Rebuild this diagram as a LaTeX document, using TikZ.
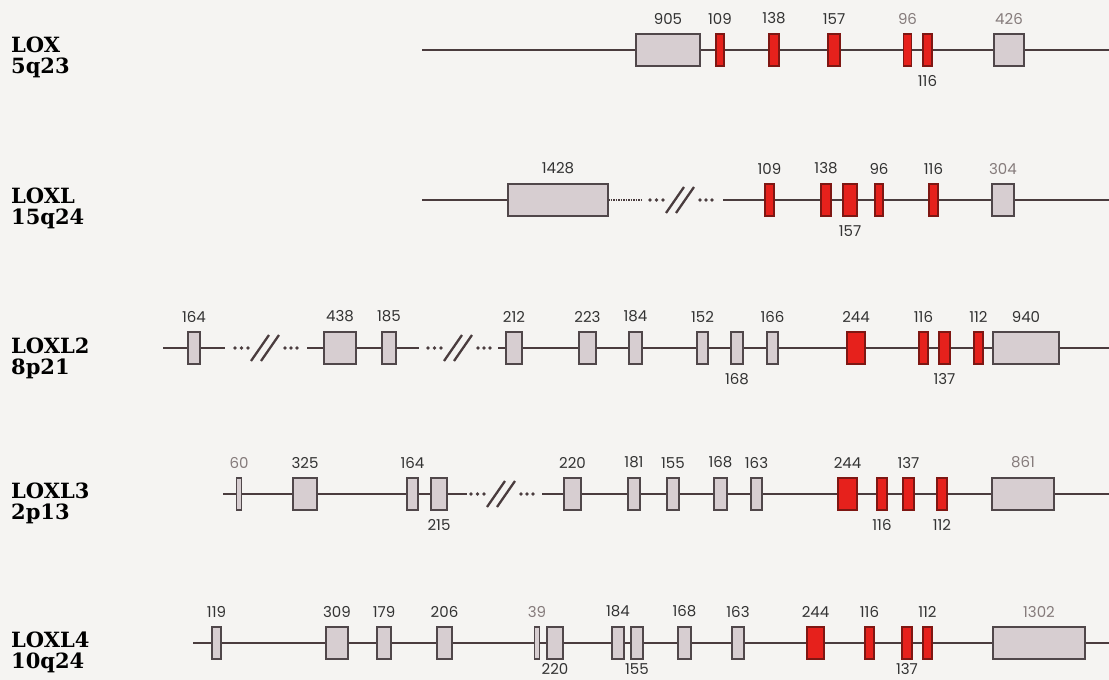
\documentclass[tikz,border=0pt]{standalone}
\usepackage{fontspec}
\newfontfamily\genefont{DejaVu Serif}
\newfontfamily\numfont{Poppins}

\definecolor{paper}{HTML}{F5F4F2}
\definecolor{intronline}{HTML}{4A3C3E}
\definecolor{exonline}{HTML}{50474A}
\definecolor{exongray}{HTML}{D7CED1}
\definecolor{exonred}{HTML}{E6211C}
\definecolor{redline}{HTML}{7E1713}
\definecolor{numgray}{HTML}{333333}
\definecolor{numlight}{HTML}{857B7B}

% break in the intron: dots, double slash, dots
\newcommand{\genebreak}[2]{%
  \begin{scope}[shift={(#1,#2)}]
    \foreach \d in {-31,-24.5,-18,19,25,31}
      \fill[intronline] (\d,0) circle (1.9pt);
    \draw[intronline, line width=2.3pt] (-15,13) -- (3,-13) (-5,13) -- (13,-13);
  \end{scope}}

\begin{document}
\begin{tikzpicture}[x=1pt, y=-1pt, label distance=9pt,
  exon/.style={rectangle, draw=exonline, fill=exongray, line width=1.3pt,
    minimum height=32pt, minimum width=#1, inner sep=0pt},
  redexon/.style={exon=#1, fill=exonred, draw=redline},
  intron/.style={draw=intronline, line width=2pt},
  gene/.style={font=\genefont\bfseries\fontsize{21}{21}\selectfont,
    align=left, anchor=west, inner sep=0pt},
  every label/.style={font=\numfont\fontsize{15}{15}\selectfont, text=numgray, inner sep=0pt},
  low/.style={yshift=5pt}]

\fill[paper] (0,0) rectangle (1109,680);
\useasboundingbox (0,0) rectangle (1109,680);

% LOX
\node at (11,57.5) (lox) [gene] {LOX\\5q23};
\coordinate (loxA) at (422,50);
\coordinate (loxB) at (1109,50);
\draw[intron] (loxA) -- (loxB);
\node at (668,50)    (lox905) [exon=64, label=above:905] {};
\node at (720,50)    (lox109) [redexon=8, label=above:109] {};
\node at (774,50)    (lox138) [redexon=10, label=above:138] {};
\node at (834,50)    (lox157) [redexon=12, label=above:157] {};
\node at (907.5,50)  (lox96)  [redexon=8, label={[text=numlight]above:96}] {};
\node at (927.5,50)  (lox116) [redexon=9, label=below:116] {};
\node at (1009,50)   (lox426) [exon=30, label={[text=numlight]above:426}] {};

% LOXL
\node at (11,208.5) (loxl) [gene] {LOXL\\15q24};
\coordinate (loxlA) at (422,200);
\coordinate (loxlB) at (608,200);
\coordinate (loxlC) at (641,200);
\coordinate (loxlD) at (723,200);
\coordinate (loxlE) at (1109,200);
\draw[intron] (loxlA) -- (loxlB);
\draw[intron, line width=2.4pt, dash pattern=on 1.6pt off 0.9pt] (loxlB) -- (loxlC);
\draw[intron] (loxlD) -- (loxlE);
\genebreak{681}{200}
\node at (558,200)   (loxl1428) [exon=100, label=above:1428] {};
\node at (769.5,200) (loxl109)  [redexon=9, label=above:109] {};
\node at (826,200)   (loxl138)  [redexon=10, label=above:138] {};
\node at (850,200)   (loxl157)  [redexon=14, label=below:157] {};
\node at (879,200)   (loxl96)   [redexon=8, label=above:96] {};
\node at (933.5,200) (loxl116)  [redexon=9, label=above:116] {};
\node at (1003,200)  (loxl304)  [exon=22, label={[text=numlight]above:304}] {};

% LOXL2
\node at (11,358.5) (loxltwo) [gene] {LOXL2\\8p21};
\coordinate (ltwoA) at (163,348);
\coordinate (ltwoB) at (225,348);
\coordinate (ltwoC) at (307,348);
\coordinate (ltwoD) at (419,348);
\coordinate (ltwoE) at (498,348);
\coordinate (ltwoF) at (1109,348);
\draw[intron] (ltwoA) -- (ltwoB);
\draw[intron] (ltwoC) -- (ltwoD);
\draw[intron] (ltwoE) -- (ltwoF);
\genebreak{266}{348}
\genebreak{459}{348}
\node at (194,348)   (ltwo164) [exon=12, label=above:164] {};
\node at (340,348)   (ltwo438) [exon=32, label=above:438] {};
\node at (389,348)   (ltwo185) [exon=14, label=above:185] {};
\node at (514,348)   (ltwo212) [exon=16, label=above:212] {};
\node at (587.5,348) (ltwo223) [exon=17, label=above:223] {};
\node at (635.5,348) (ltwo184) [exon=13, label=above:184] {};
\node at (702.5,348) (ltwo152) [exon=11, label=above:152] {};
\node at (737,348)   (ltwo168) [exon=12, label=below:168] {};
\node at (772.5,348) (ltwo166) [exon=11, label=above:166] {};
\node at (856,348)   (ltwo244) [redexon=18, label=above:244] {};
\node at (923.5,348) (ltwo116) [redexon=9, label=above:116] {};
\node at (944.5,348) (ltwo137) [redexon=11, label=below:137] {};
\node at (978.5,348) (ltwo112) [redexon=9, label=above:112] {};
\node at (1026,348)  (ltwo940) [exon=66, label=above:940] {};

% LOXL3
\node at (11,503) (loxlthree) [gene] {LOXL3\\2p13};
\coordinate (lthreeA) at (223,494);
\coordinate (lthreeB) at (467,494);
\coordinate (lthreeC) at (542,494);
\coordinate (lthreeD) at (1109,494);
\draw[intron] (lthreeA) -- (lthreeB);
\draw[intron] (lthreeC) -- (lthreeD);
\genebreak{502}{494}
\node at (239,494)   (lthree60)  [exon=5, label={[text=numlight]above:60}] {};
\node at (305,494)   (lthree325) [exon=24, label=above:325] {};
\node at (412.5,494) (lthree164) [exon=11, label=above:164] {};
\node at (439,494)   (lthree215) [exon=16, label=below:215] {};
\node at (572.5,494) (lthree220) [exon=17, label=above:220] {};
\node at (634,494)   (lthree181) [exon=12, label=above:181] {};
\node at (673,494)   (lthree155) [exon=12, label=above:155] {};
\node at (720.5,494) (lthree168) [exon=13, label=above:168] {};
\node at (756.5,494) (lthree163) [exon=11, label=above:163] {};
\node at (847.5,494) (lthree244) [redexon=19, label=above:244] {};
\node at (882,494)   (lthree116) [redexon=10, label=below:116] {};
\node at (908.5,494) (lthree137) [redexon=11, label=above:137] {};
\node at (942,494)   (lthree112) [redexon=10, label=below:112] {};
\node at (1023,494)  (lthree861) [exon=62, label={[text=numlight]above:861}] {};

% LOXL4
\node at (11,652.5) (loxlfour) [gene] {LOXL4\\10q24};
\coordinate (lfourA) at (193,643);
\coordinate (lfourB) at (1109,643);
\draw[intron] (lfourA) -- (lfourB);
\node at (216.5,643) (lfour119)  [exon=9, label=above:119] {};
\node at (337,643)   (lfour309)  [exon=22, label=above:309] {};
\node at (384,643)   (lfour179)  [exon=14, label=above:179] {};
\node at (444.5,643) (lfour206)  [exon=15, label=above:206] {};
\node at (537,643)   (lfour39)   [exon=5, label={[text=numlight]above:39}] {};
\node at (555,643)   (lfour220)  [exon=16, label={[low]below:220}] {};
\node at (618,643)   (lfour184)  [exon=12, label=above:184] {};
\node at (637,643)   (lfour155)  [exon=12, label={[low]below:155}] {};
\node at (684.5,643) (lfour168)  [exon=13, label=above:168] {};
\node at (738,643)   (lfour163)  [exon=12, label=above:163] {};
\node at (815.5,643) (lfour244)  [redexon=17, label=above:244] {};
\node at (869.5,643) (lfour116)  [redexon=9, label=above:116] {};
\node at (907,643)   (lfour137)  [redexon=10, label={[low]below:137}] {};
\node at (927.5,643) (lfour112)  [redexon=9, label=above:112] {};
\node at (1039,643)  (lfour1302) [exon=92, label={[text=numlight]above:1302}] {};
\end{tikzpicture}
\end{document}
